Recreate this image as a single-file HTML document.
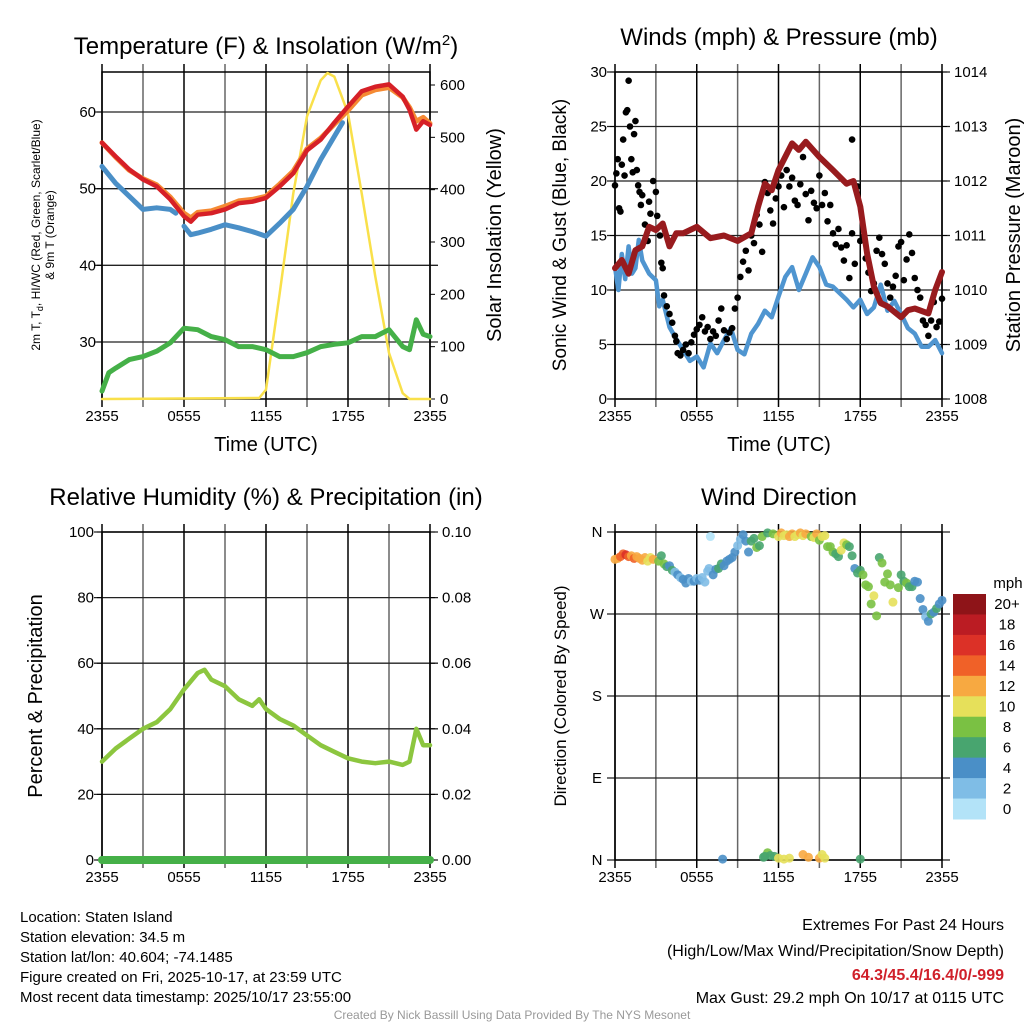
<!DOCTYPE html>
<html><head><meta charset="utf-8">
<style>
html,body{margin:0;padding:0;background:#fff;}
svg{display:block;font-family:"Liberation Sans",sans-serif;}
</style></head>
<body>
<svg id="chart" width="1024" height="1024" viewBox="0 0 1024 1024" xmlns="http://www.w3.org/2000/svg">
<text x="266" y="54" font-size="24" text-anchor="middle">Temperature (F) &amp; Insolation (W/m<tspan font-size="15" dy="-9">2</tspan><tspan dy="9">)</tspan></text>
<text x="779" y="45" font-size="24" text-anchor="middle">Winds (mph) &amp; Pressure (mb)</text>
<text x="266" y="505" font-size="24" text-anchor="middle">Relative Humidity (%) &amp; Precipitation (in)</text>
<text x="779" y="505" font-size="24" text-anchor="middle">Wind Direction</text>
<g id="p1"></g>
<g id="p2"></g>
<g id="p3"></g>
<g id="p4"></g>
<text transform="translate(40,235) rotate(-90)" font-size="12" text-anchor="middle">2m T, T<tspan font-size="9" dy="3">d</tspan><tspan dy="-3">, HI/WC (Red, Green, Scarlet/Blue)</tspan></text>
<text transform="translate(54,235) rotate(-90)" font-size="12" text-anchor="middle">&amp; 9m T (Orange)</text>
<text transform="translate(501,235) rotate(-90)" font-size="20" text-anchor="middle">Solar Insolation (Yellow)</text>
<text x="266" y="451" font-size="20" text-anchor="middle">Time (UTC)</text>
<text transform="translate(566,235) rotate(-90)" font-size="19" text-anchor="middle">Sonic Wind &amp; Gust (Blue, Black)</text>
<text transform="translate(1020,235) rotate(-90)" font-size="20" text-anchor="middle">Station Pressure (Maroon)</text>
<text x="779" y="451" font-size="20" text-anchor="middle">Time (UTC)</text>
<text transform="translate(42,696) rotate(-90)" font-size="20" text-anchor="middle">Percent &amp; Precipitation</text>
<text transform="translate(566,696) rotate(-90)" font-size="17" text-anchor="middle">Direction (Colored By Speed)</text>
<g font-size="15">
<text x="20" y="922">Location: Staten Island</text>
<text x="20" y="942">Station elevation: 34.5 m</text>
<text x="20" y="962">Station lat/lon: 40.604; -74.1485</text>
<text x="20" y="982">Figure created on Fri, 2025-10-17, at 23:59 UTC</text>
<text x="20" y="1002">Most recent data timestamp: 2025/10/17 23:55:00</text>
</g>
<g font-size="16" text-anchor="end">
<text x="1004" y="930">Extremes For Past 24 Hours</text>
<text x="1004" y="956">(High/Low/Max Wind/Precipitation/Snow Depth)</text>
<text x="1004" y="980" fill="#d0202a" font-weight="bold">64.3/45.4/16.4/0/-999</text>
<text x="1004" y="1003">Max Gust: 29.2 mph On 10/17 at 0115 UTC</text>
</g>
<text x="512" y="1019" font-size="12" fill="#999" text-anchor="middle">Created By Nick Bassill Using Data Provided By The NYS Mesonet</text>
</svg>
<script>
// ---------- DATA ----------
const xTickLabels = ["2355","0555","1155","1755","2355"];
const tempHours = [0,1,2,3,4,5,6,6.5,7,8,9,10,11,12,13,14,15,16,17,18,19,20,21,22,22.5,23,23.5,24];
const tempRed = [56,54.2,52.5,51.2,50.3,48.6,46.4,45.7,46.6,46.8,47.3,48.1,48.3,48.8,50.3,52,55,56.4,58.6,60.7,62.7,63.3,63.6,62,60.3,57.7,58.8,58.3];
const tempOrange = [56,54.1,52.4,51.3,50.5,48.9,46.8,46.2,46.9,47.1,47.7,48.4,48.6,49,50.6,52.3,55.2,56.6,58.4,60.2,62.2,62.9,63.2,61.9,60.6,58.8,59.3,58.5];
const tdHours = [0,1,2,3,4,5,5.4,6,6.5,7,8,9,10,11,12,13,14,15,16,17,17.6];
const tdBlue = [52.9,50.7,49,47.3,47.5,47.3,46.8,45.1,44,44.2,44.7,45.3,44.9,44.4,43.8,45.5,47.3,50.3,53.8,56.8,58.6];
const hiHours = [0,0.5,1,2,3,4,5,6,7,8,9,10,11,12,13,14,15,16,17,18,19,20,21,22,22.5,23,23.5,24];
const hiGreen = [23.6,26,26.6,27.7,28.1,28.8,29.9,31.8,31.6,30.7,30.3,29.4,29.4,29,28.1,28.1,28.6,29.4,29.7,29.9,30.7,30.7,31.6,29.4,29,32.9,31,30.7];
const solarHours = [0,11.5,12,13,14,15,16,16.5,17,18,19,20,21,22,22.5,24];
const solarVals = [0,2,18,202,393,540,609,623,616,546,393,234,88,11,0,0];
const presHours = [0,0.5,1,1.5,2,2.5,3,3.5,4,4.5,5,6,7,8,9,10,10.5,11,11.5,12,13,13.5,14,15,16,17,17.5,18,18.5,19,19.5,20,21,21.5,22,23,23.5,24];
const presVals = [1010.4,1010.55,1010.3,1010.73,1010.8,1011.16,1011.1,1011.22,1010.8,1011.04,1011.04,1011.16,1010.95,1011,1010.9,1011.04,1011.53,1011.95,1011.83,1012.2,1012.69,1012.57,1012.72,1012.44,1012.2,1011.95,1012,1011.53,1010.67,1010.06,1009.76,1009.7,1009.5,1009.63,1009.66,1009.57,1010,1010.33];
const windHours = [0,0.25,0.5,0.75,1,1.25,1.5,1.75,2,2.5,3,3.25,3.5,4,4.5,5,5.5,6,6.5,7,7.5,8,8.5,9,9.5,10,10.5,11,11.5,12,12.5,13,13.5,14,14.5,15,15.5,16,16.5,17,17.5,18,18.5,19,19.5,20,20.5,21,21.5,22,22.5,23,23.5,24];
const windVals = [12.1,10,13.3,11,14,11.5,12,14.6,12.7,11.5,10.9,8.5,9.1,6.6,5.5,4.5,3.5,3.9,2.9,5.1,4.2,5.4,6.5,4.5,4.1,6,6.9,8.1,7.5,9.4,11.2,12.1,10,11.5,13,12.1,10.5,10.3,9.7,9.1,8.4,9.1,7.8,8.4,10.5,8.1,9,7.8,6.5,6,4.8,4.8,5.4,4.2];
const gustHours = [0,0.1,0.2,0.3,0.4,0.5,0.6,0.7,0.8,0.9,1.0,1.1,1.2,1.3,1.4,1.5,1.6,1.7,1.8,1.9,2.0,2.2,2.4,2.5,2.6,2.8,3.0,3.1,3.3,3.4,3.5,3.6,3.8,4.0,4.2,4.4,4.5,4.6,4.8,5.0,5.2,5.4,5.6,5.8,6.0,6.2,6.4,6.6,6.8,7.0,7.2,7.4,7.6,7.8,8.0,8.2,8.4,8.6,8.8,9.0,9.2,9.4,9.6,9.8,10.0,10.2,10.4,10.6,10.8,11.0,11.2,11.4,11.6,11.8,12.0,12.2,12.4,12.6,12.8,13.0,13.2,13.4,13.6,13.8,14.0,14.2,14.4,14.6,14.8,15.0,15.2,15.4,15.6,15.8,16.0,16.2,16.4,16.6,16.8,17.0,17.2,17.4,17.4,17.6,17.8,18.0,18.2,18.4,18.6,18.8,19.0,19.2,19.4,19.6,19.8,20.0,20.2,20.4,20.6,20.8,21.0,21.2,21.4,21.6,21.8,22.0,22.2,22.4,22.6,22.8,23.0,23.2,23.4,23.6,23.8,24.0];
const gustVals = [19.6,20.7,22,17.5,17.2,21.5,23.8,20.5,26.3,26.5,29.2,25,22,20.8,24.3,25.5,21,19.6,19,17.8,18.7,16,14.5,18.1,17,20,19,16.8,15,12.5,12,9.5,8.5,7.8,7,5.8,5.3,4.2,4,4.5,5,4.2,5.2,5.9,6.4,6.8,7.5,6.2,6.6,5.5,6.2,5.8,7.2,8.3,6.3,5.5,6.1,6.5,8.3,9.3,11.2,12.6,13.6,11.8,15,14.3,16.9,16,13.5,19.9,18.9,17.3,16.1,18.4,19.5,20.5,17.6,21,19.5,20.3,18.2,17.8,19.7,22.2,18.8,16.4,19.1,18,17.5,20.5,17.8,18.9,16.3,17.8,15.2,14.2,15.6,13.9,12.7,14.1,11.1,15.2,23.8,12.4,19.5,14.5,14.9,12.9,11.6,9.9,10.6,13.6,14.8,13.3,12.4,10.6,9.3,10.3,11.3,14,14.4,10.9,12.8,15.1,13.4,11.1,10,9.3,7.2,6.8,5.8,7.2,8.9,6.6,7.1,9.2];
const rhHours = [0,1,2,3,4,5,6,7,7.5,8,9,10,11,11.5,12,13,14,15,16,17,18,19,20,21,22,22.5,23,23.5,24];
const rhVals = [30,34,37,40,42,46,52,57,58,55,53,49,47,49,46,43,41,38,35,33,31,30,29.5,30,29,30,40,35,35];
const precipVals = [0,0];
const dirHours = [0,0.2,0.4,0.6,0.8,1.0,1.2,1.4,1.6,1.8,2.0,2.2,2.4,2.6,2.8,3.2,3.4,3.6,3.8,4.0,4.2,4.4,4.6,4.8,5.0,5.2,5.4,5.6,5.8,6.0,6.2,6.4,6.6,6.8,7.0,6.9,7.2,7.4,7.6,7.8,8.0,8.2,8.4,8.6,8.8,9.0,9.2,9.4,9.6,9.8,10.0,10.2,10.4,10.6,10.8,11.2,11.6,12.0,12.2,12.4,12.6,12.8,13.0,13.2,13.4,13.6,13.8,14.0,14.4,14.6,14.8,15.0,15.2,15.4,15.6,15.8,16.0,16.2,16.4,16.6,16.8,17.0,17.2,17.4,17.6,17.8,18.0,18.2,18.4,18.6,18.8,19.0,19.2,19.4,19.6,19.8,20.0,20.2,20.4,20.8,21.0,21.2,21.4,21.6,21.8,22.0,22.2,22.4,22.6,22.8,23.0,23.2,23.4,23.6,23.8,24.0,7.9,10.9,11.2,11.4,11.7,12.0,12.4,12.8,13.8,14.2,15.0,15.2,15.4,18.0,11.0];
const dirDeg = [330,331,333,336,335,333,334,331,333,331,329,332,328,332,330,328,334,325,322,323,318,316,313,310,308,304,309,306,306,309,307,310,305,317,355,320,313,319,320,325,323,328,330,332,338,345,352,357,350,338,350,353,343,345,355,359,358,355,359,356,357,355,358,355,357,359,356,358,355,354,358,351,355,356,344,344,338,336,333,340,348,346,344,334,320,315,318,313,302,300,281,290,268,332,326,305,314,302,283,299,313,306,304,300,300,306,305,287,275,267,262,270,272,276,281,285,1,3,8,5,4,2,1,2,6,3,2,6,2,1,4];
const dirSpeed = [12,13,14,15,17,14,13,15,13,13,12,12,11,10,12,9,7,8,6,5,6,3,4,3,4,4,4,2,4,3,4,3,2,2,1,2,4,5,6,6,5,4,5,4,4,3,3,4,5,4,6,6,8,7,8,6,8,10,12,10,10,12,12,10,11,12,10,12,8,11,12,9,10,10,8,8,8,7,6,10,10,8,7,6,4,6,6,8,8,8,8,10,8,6,8,8,8,8,10,8,6,7,8,6,6,4,4,4,4,3,4,6,5,6,5,4,4,6,8,6,7,10,10,10,12,12,13,10,10,6,7];
const cbLabels = ["20+","18","16","14","12","10","8","6","4","2","0"];
const cbColors = ["#8e1418","#bb1c23","#dc3127","#f06128","#f7a941","#e6e05a","#7ac143","#48a56f","#4a8fc7","#7fbde6","#b3e3f8"];

// ---------- HELPERS ----------
const NS="http://www.w3.org/2000/svg";
function mk(parent,tag,attrs){const e=document.createElementNS(NS,tag);for(const k in attrs)e.setAttribute(k,attrs[k]);parent.appendChild(e);return e;}
function linScale(d0,d1,r0,r1){return v=>r0+(v-d0)/(d1-d0)*(r1-r0);}
function speedColor(s){let i=Math.min(10,Math.floor(s/2));return cbColors[10-i];}

function frame(g,L,R,T,B,hLines,xs){
  for(let h=0;h<=24;h+=3){
    const x=xs(h);
    const l=mk(g,'line',{x1:x,x2:x,y1:T-8,y2:B+8,stroke:(h%6==0)?'#000':'#666','stroke-width':1.5});
    
    
  }
  hLines.forEach(y=>{
    const l=mk(g,'line',{x1:L-8,x2:R+8,y1:y,y2:y,stroke:'#222','stroke-width':1.3});
    
    
  });
  xTickLabels.forEach((t,i)=>{
    const tx=mk(g,'text',{x:xs(i*6),y:B+22,'font-size':15,'text-anchor':'middle'});
    tx.textContent=t;
    
    
  });
  const r=mk(g,'rect',{x:L,y:T,width:R-L,height:B-T,fill:'none',stroke:'#000','stroke-width':1.5});
  
  
}
function yTicks(g,x,vals,ys,anchor,dx,fmt){
  vals.forEach(v=>{
    const t=mk(g,'text',{x:x+dx,y:ys(v)+5,'font-size':15,'text-anchor':anchor});
    t.textContent=fmt?fmt(v):v;
    
    
    const tk=mk(g,'line',{x1:x,x2:x+(anchor=='end'?-5:5),y1:ys(v),y2:ys(v),stroke:'#000','stroke-width':1});
    
    
  });
}
function poly(g,xsArr,ysArr,xs,ys,color,w,name){
  const pts=xsArr.map((h,i)=>xs(h).toFixed(1)+','+ys(ysArr[i]).toFixed(1)).join(' ');
  const p=mk(g,'polyline',{points:pts,fill:'none',stroke:color,'stroke-width':w,'stroke-linejoin':'round','stroke-linecap':'round'});
  
  
}

// ---------- PANEL 1 ----------
(function(){
  const g=document.getElementById('p1');
  const L=102,R=430,T=72,B=399;
  const xs=linScale(0,24,L,R);
  const yT=linScale(30,60,342,112);
  const yS=linScale(0,600,399,85);
  frame(g,L,R,T,B,[30,40,50,60].map(yT),xs);
  yTicks(g,L,[30,40,50,60],yT,'end',-6);
  yTicks(g,R,[0,100,200,300,400,500,600],yS,'start',10);
  poly(g,solarHours,solarVals,xs,yS,'#f9e04a',2.5,'solar-line');
  poly(g,hiHours,hiGreen,xs,yT,'#45b048',5,'hi-wc-line');
  poly(g,tdHours.slice(0,7),tdBlue.slice(0,7),xs,yT,'#4a8fc7',5,'dewpoint-line');
  poly(g,tdHours.slice(7),tdBlue.slice(7),xs,yT,'#4a8fc7',5,'dewpoint-line-2');
  poly(g,tempHours,tempOrange,xs,yT,'#f58a33',5,'temp-9m-line');
  poly(g,tempHours,tempRed,xs,yT,'#d62027',4.5,'temp-2m-line');
})();

// ---------- PANEL 2 ----------
(function(){
  const g=document.getElementById('p2');
  const L=615,R=942,T=72,B=399;
  const xs=linScale(0,24,L,R);
  const yW=linScale(0,30,399,72);
  const yP=linScale(1008,1014,399,72);
  frame(g,L,R,T,B,[0,5,10,15,20,25,30].map(yW),xs);
  yTicks(g,L,[0,5,10,15,20,25,30],yW,'end',-8);
  yTicks(g,R,[1008,1009,1010,1011,1012,1013,1014],yP,'start',12);
  poly(g,windHours,windVals,xs,yW,'#4f95d0',4.5,'sonic-wind-line');
  gustHours.forEach((h,i)=>{
    const c=mk(g,'circle',{cx:xs(h),cy:yW(gustVals[i]),r:3.3,fill:'#000'});
    
    
  });
  poly(g,presHours,presVals,xs,yP,'#981b1e',6,'pressure-line');
})();

// ---------- PANEL 3 ----------
(function(){
  const g=document.getElementById('p3');
  const L=102,R=430,T=532,B=860;
  const xs=linScale(0,24,L,R);
  const yR=linScale(0,100,860,532);
  const yPr=linScale(0,0.1,860,532);
  frame(g,L,R,T,B,[0,20,40,60,80,100].map(yR),xs);
  yTicks(g,L,[0,20,40,60,80,100],yR,'end',-8);
  yTicks(g,R,[0,0.02,0.04,0.06,0.08,0.1],yPr,'start',12,v=>v.toFixed(2));
  poly(g,rhHours,rhVals,xs,yR,'#8cc63f',4.5,'rh-line');
  poly(g,[0,24],precipVals,xs,yPr,'#45b048',8,'precip-line');
})();

// ---------- PANEL 4 ----------
(function(){
  const g=document.getElementById('p4');
  const L=615,R=942,T=532,B=860;
  const xs=linScale(0,24,L,R);
  const yD=linScale(0,360,860,532);
  frame(g,L,R,T,B,[0,90,180,270,360].map(yD),xs);
  const names=["N","E","S","W","N"];
  [0,90,180,270,360].forEach((v,i)=>{
    const t=mk(g,'text',{x:L-18,y:yD(v)+5,'font-size':15,'text-anchor':'middle'});
    t.textContent=names[i];
    
    
  });
  dirHours.forEach((h,i)=>{
    const c=mk(g,'circle',{cx:xs(h),cy:yD(dirDeg[i]),r:4.5,fill:speedColor(dirSpeed[i]),'fill-opacity':0.9});
    
    
  });
  const t=mk(g,'text',{x:1008,y:588,'font-size':15,'text-anchor':'middle'});
  t.textContent='mph';
  
  
  const bh=(819-594)/cbColors.length;
  cbColors.forEach((c,i)=>{
    const r=mk(g,'rect',{x:953,y:594+i*bh,width:33,height:bh+0.5,fill:c});
    
    
    const l=mk(g,'text',{x:1007,y:594+i*bh+bh/2+5,'font-size':15,'text-anchor':'middle'});
    l.textContent=cbLabels[i];
    
    
  });
})();
</script>
</body></html>
